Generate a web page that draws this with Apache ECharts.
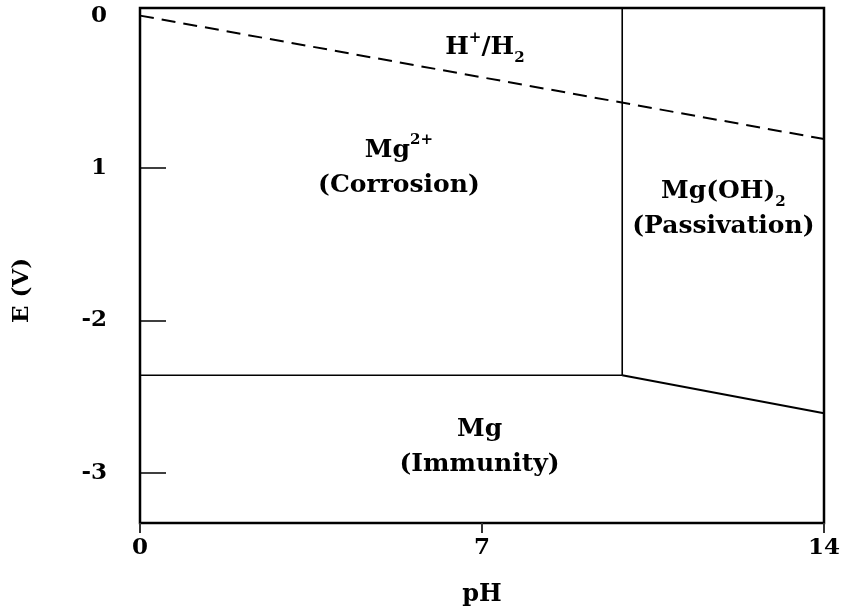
<!DOCTYPE html>
<html>
<head>
<meta charset="utf-8">
<script src="https://cdn.jsdelivr.net/npm/echarts@6/dist/echarts.min.js"></script>
<style>html,body{margin:0;padding:0;background:#fff}#c{width:843px;height:614px}</style>
</head>
<body>
<div id="c"></div>
<script>
// ---- data ----
const xTickValues = [0, 7, 14];
const yTickValues = [0, -1, -2, -3];
const yTickLabels = ['0', '1', '-2', '-3'];
const waterLinePH = [0, 14];
const waterLineE = [0, -0.81];
const mgLinePH = [0, 9.87];
const mgLineE = [-2.36, -2.36];
const hydroxideLinePH = [9.87, 9.87];
const hydroxideLineE = [-2.36, 0.05];
const passLinePH = [9.87, 14];
const passLineE = [-2.36, -2.61];
const regionPH = [7.06, 5.3, 11.94, 6.95];
const regionE = [-0.21, -1.0, -1.27, -2.83];
const regionText = ['H{sup|+}/H{sub|2}', 'Mg{sup|2+}\n(Corrosion)', 'Mg(OH){sub|2}\n(Passivation)', 'Mg\n(Immunity)'];

const pairs = (xs, ys) => xs.map((x, i) => [x, ys[i]]);
const font = 'DejaVu Serif';
const lineStyle = { color: '#000', width: 1.6 };

const chart = echarts.init(document.getElementById('c'));
chart.setOption({
  animation: false,
  grid: { left: 140, right: 19, top: 8, bottom: 91, show: true, borderColor: '#000', borderWidth: 2.5, backgroundColor: 'transparent' },
  xAxis: {
    type: 'value', min: 0, max: 14, interval: 7,
    name: 'pH', nameLocation: 'middle', nameGap: 60,
    nameTextStyle: { fontFamily: font, fontWeight: 'bold', fontSize: 24, color: '#000' },
    axisLine: { show: true, onZero: false, lineStyle: { color: '#000', width: 2 } },
    axisTick: { show: true, length: 10, lineStyle: { color: '#333', width: 2 }, customValues: xTickValues },
    axisLabel: { margin: 14, fontFamily: font, fontWeight: 'bold', fontSize: 23, color: '#000', customValues: xTickValues },
    splitLine: { show: false }
  },
  yAxis: {
    type: 'value', min: -3.33, max: 0.05,
    name: 'E (V)', nameLocation: 'middle', nameGap: 106, nameRotate: 90,
    nameTextStyle: { fontFamily: font, fontWeight: 'bold', fontSize: 23, color: '#000', padding: [0, 50, 0, 0] },
    axisLine: { show: true, onZero: false, lineStyle: { color: '#000', width: 2 } },
    axisTick: { show: true, inside: true, length: 26, lineStyle: { color: '#000', width: 1.5 }, customValues: [-1, -2, -3] },
    axisLabel: {
      margin: 33, fontFamily: font, fontWeight: 'bold', fontSize: 23, color: '#000',
      customValues: yTickValues,
      formatter: v => { const i = yTickValues.findIndex(t => Math.abs(t - v) < 1e-6); return i >= 0 ? yTickLabels[i] : ''; }
    },
    splitLine: { show: false }
  },
  series: [
    { type: 'line', data: pairs(waterLinePH, waterLineE), symbol: 'none', lineStyle: { color: '#000', width: 2, type: [14, 8] } },
    { type: 'line', data: pairs(mgLinePH, mgLineE), symbol: 'none', lineStyle },
    { type: 'line', data: pairs(hydroxideLinePH, hydroxideLineE), symbol: 'none', lineStyle },
    { type: 'line', data: pairs(passLinePH, passLineE), symbol: 'none', lineStyle: { color: '#000', width: 2 } },
    {
      type: 'scatter', symbolSize: 0, silent: true,
      itemStyle: { opacity: 1, color: '#000' },
      data: regionPH.map((x, i) => ({ value: [x, regionE[i]], name: regionText[i] })),
      label: {
        show: true, position: 'inside', formatter: p => p.name, opacity: 1,
        fontFamily: font, fontWeight: 'bold', fontSize: 25, lineHeight: 35, color: '#000', align: 'center',
        textBorderWidth: 0,
        rich: {
          sup: { fontFamily: font, fontWeight: 'bold', fontSize: 15, color: '#000', verticalAlign: 'top', lineHeight: 35, padding: [0, 0, 10, 0] },
          sub: { fontFamily: font, fontWeight: 'bold', fontSize: 15, color: '#000', verticalAlign: 'bottom', lineHeight: 35, padding: [6, 0, 0, 0] }
        }
      }
    }
  ]
});
</script>
</body>
</html>
